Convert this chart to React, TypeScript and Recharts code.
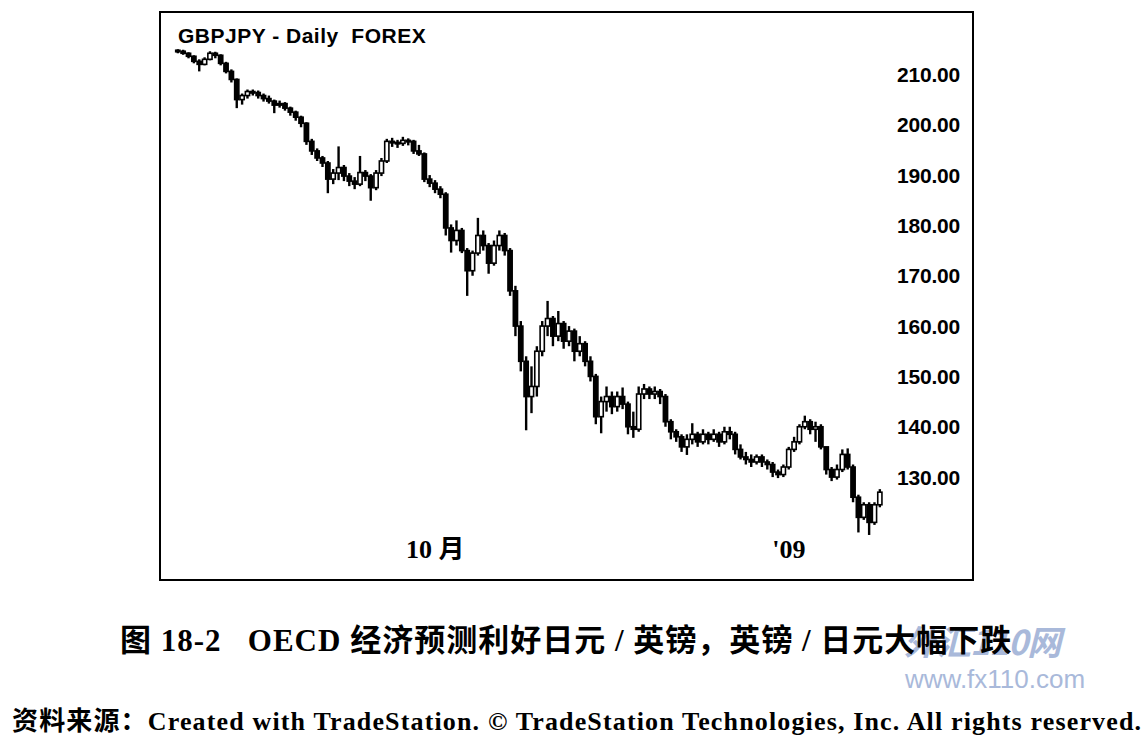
import { ComposedChart, Bar, XAxis, YAxis } from "recharts";

// weekday sessions, 2008-07-25 .. 2009-01-26
const DATES = [
  "2008-07-25", "2008-07-28", "2008-07-29", "2008-07-30", "2008-07-31",
  "2008-08-01", "2008-08-04", "2008-08-05", "2008-08-06", "2008-08-07", "2008-08-08",
  "2008-08-11", "2008-08-12", "2008-08-13", "2008-08-14", "2008-08-15",
  "2008-08-18", "2008-08-19", "2008-08-20", "2008-08-21", "2008-08-22",
  "2008-08-25", "2008-08-26", "2008-08-27", "2008-08-28", "2008-08-29",
  "2008-09-01", "2008-09-02", "2008-09-03", "2008-09-04", "2008-09-05",
  "2008-09-08", "2008-09-09", "2008-09-10", "2008-09-11", "2008-09-12",
  "2008-09-15", "2008-09-16", "2008-09-17", "2008-09-18", "2008-09-19",
  "2008-09-22", "2008-09-23", "2008-09-24", "2008-09-25", "2008-09-26",
  "2008-09-29", "2008-09-30",
  "2008-10-01", "2008-10-02", "2008-10-03",
  "2008-10-06", "2008-10-07", "2008-10-08", "2008-10-09", "2008-10-10",
  "2008-10-13", "2008-10-14", "2008-10-15", "2008-10-16", "2008-10-17",
  "2008-10-20", "2008-10-21", "2008-10-22", "2008-10-23", "2008-10-24",
  "2008-10-27", "2008-10-28", "2008-10-29", "2008-10-30", "2008-10-31",
  "2008-11-03", "2008-11-04", "2008-11-05", "2008-11-06", "2008-11-07",
  "2008-11-10", "2008-11-11", "2008-11-12", "2008-11-13", "2008-11-14",
  "2008-11-17", "2008-11-18", "2008-11-19", "2008-11-20", "2008-11-21",
  "2008-11-24", "2008-11-25", "2008-11-26", "2008-11-27", "2008-11-28",
  "2008-12-01", "2008-12-02", "2008-12-03", "2008-12-04", "2008-12-05",
  "2008-12-08", "2008-12-09", "2008-12-10", "2008-12-11", "2008-12-12",
  "2008-12-15", "2008-12-16", "2008-12-17", "2008-12-18", "2008-12-19",
  "2008-12-22", "2008-12-23", "2008-12-24", "2008-12-25", "2008-12-26",
  "2008-12-29", "2008-12-30", "2008-12-31",
  "2009-01-01", "2009-01-02",
  "2009-01-05", "2009-01-06", "2009-01-07", "2009-01-08", "2009-01-09",
  "2009-01-12", "2009-01-13", "2009-01-14", "2009-01-15", "2009-01-16",
  "2009-01-19", "2009-01-20", "2009-01-21", "2009-01-22", "2009-01-23",
  "2009-01-26",
];

const OPEN = [
  214.8, 214.6, 214.2, 213.6, 212.6, 212.0, 213.0, 214.2, 213.8, 212.2,
  210.6, 209.0, 205.0, 205.8, 206.6, 206.4, 205.8, 205.2, 204.7, 203.9,
  204.2, 203.3, 202.5, 201.5, 200.3, 196.7, 194.8, 193.4, 192.4, 189.2,
  190.4, 191.5, 189.8, 188.8, 188.2, 190.5, 189.8, 187.5, 190.4, 192.8,
  196.7, 196.5, 196.3, 196.9, 196.7, 194.8, 194.2, 189.2, 188.4, 187.2,
  186.2, 179.5, 177.0, 179.0, 175.0, 171.0, 174.5, 178.0, 176.0, 172.5,
  176.0, 178.0, 175.0, 167.0, 160.0, 153.0, 146.0, 148.0, 155.0, 160.0,
  161.5, 158.0, 160.5, 157.0, 159.0, 155.0, 156.5, 153.0, 150.0, 142.0,
  145.0, 146.0, 144.0, 146.0, 144.5, 140.0, 139.5, 146.5, 147.5, 146.5,
  147.0, 146.0, 141.0, 139.0, 138.0, 136.0, 137.5, 138.5, 137.0, 138.5,
  137.5, 138.5, 137.0, 139.0, 138.5, 135.5, 134.0, 133.5, 133.0, 134.0,
  133.0, 132.5, 131.0, 130.5, 132.0, 135.5, 137.0, 140.0, 141.0, 139.5,
  140.0, 136.0, 131.5, 130.0, 131.5, 134.5, 132.0, 126.0, 122.0, 124.5,
  121.0, 124.5,
];

const HIGH = [
  215.0, 214.9, 214.4, 213.8, 213.0, 213.4, 214.6, 214.5, 214.0, 212.5,
  211.0, 209.2, 206.2, 207.0, 207.0, 206.8, 206.2, 205.8, 205.0, 204.8,
  204.5, 203.6, 202.8, 201.8, 200.5, 197.2, 195.3, 193.8, 192.8, 191.2,
  195.7, 192.0, 190.4, 189.6, 193.8, 191.0, 190.2, 191.0, 193.4, 197.2,
  197.4, 197.0, 197.6, 197.3, 197.0, 196.0, 194.5, 190.0, 189.0, 187.8,
  186.6, 180.2, 181.0, 179.5, 175.5, 175.0, 181.5, 179.0, 176.5, 177.0,
  179.0, 178.5, 175.5, 168.0, 161.0, 154.0, 152.0, 156.0, 161.0, 165.0,
  162.0, 163.0, 161.0, 160.0, 159.5, 158.0, 157.0, 154.0, 150.5, 146.0,
  148.0, 147.0, 147.0, 147.8, 145.0, 143.0, 148.0, 148.5, 148.0, 148.0,
  147.5, 146.5, 141.5, 139.5, 138.5, 138.5, 140.7, 139.0, 139.5, 139.0,
  139.5, 139.0, 140.0, 140.0, 139.0, 136.5, 135.0, 134.5, 134.5, 134.5,
  133.5, 133.0, 131.5, 132.5, 136.0, 138.0, 140.5, 142.2, 141.5, 141.0,
  140.5, 136.0, 132.0, 132.5, 135.5, 135.7, 132.5, 126.5, 125.0, 125.0,
  125.0, 127.6,
];

const LOW = [
  214.2, 213.9, 213.2, 212.2, 210.6, 211.8, 212.8, 213.2, 211.8, 210.2,
  208.4, 203.3, 204.0, 205.2, 205.8, 205.2, 204.6, 204.2, 202.3, 203.4,
  202.8, 201.8, 200.8, 199.5, 196.0, 194.0, 192.8, 191.6, 186.4, 188.2,
  189.0, 188.8, 187.8, 187.2, 187.8, 188.8, 184.9, 187.0, 189.8, 192.4,
  195.6, 195.4, 195.8, 195.9, 194.2, 193.8, 188.6, 187.6, 186.4, 185.4,
  178.0, 174.6, 176.0, 174.5, 166.0, 170.0, 174.0, 175.0, 170.4, 172.0,
  175.0, 174.0, 166.0, 158.0, 151.0, 139.3, 142.7, 146.0, 154.0, 158.0,
  156.0, 157.0, 155.5, 156.0, 153.0, 154.0, 152.0, 149.0, 140.5, 138.7,
  143.0, 142.5, 143.0, 143.5, 138.5, 137.8, 139.0, 145.5, 145.5, 145.5,
  144.5, 140.0, 137.5, 137.0, 135.0, 134.4, 136.5, 136.0, 136.5, 136.5,
  137.0, 136.0, 136.5, 137.5, 134.5, 133.5, 132.5, 132.0, 132.5, 132.0,
  131.5, 130.0, 129.8, 130.0, 131.5, 135.0, 136.5, 139.5, 138.5, 137.0,
  135.5, 130.5, 129.2, 129.5, 131.0, 131.5, 125.0, 119.0, 121.5, 118.5,
  120.5, 124.0,
];

const CLOSE = [
  214.6, 214.2, 213.6, 212.6, 212.0, 213.0, 214.2, 213.8, 212.2, 210.6,
  209.0, 205.0, 205.8, 206.6, 206.4, 205.8, 205.2, 204.7, 203.9, 204.2,
  203.3, 202.5, 201.5, 200.3, 196.7, 194.8, 193.4, 192.4, 189.2, 190.4,
  191.5, 189.8, 188.8, 188.2, 190.5, 189.8, 187.5, 190.4, 192.8, 196.7,
  196.5, 196.3, 196.9, 196.7, 194.8, 194.2, 189.2, 188.4, 187.2, 186.2,
  179.5, 177.0, 179.0, 175.0, 171.0, 174.5, 178.0, 176.0, 172.5, 176.0,
  178.0, 175.0, 167.0, 160.0, 153.0, 146.0, 148.0, 155.0, 160.0, 161.5,
  158.0, 160.5, 157.0, 159.0, 155.0, 156.5, 153.0, 150.0, 142.0, 145.0,
  146.0, 144.0, 146.0, 144.5, 140.0, 139.5, 146.5, 147.5, 146.5, 147.0,
  146.0, 141.0, 139.0, 138.0, 136.0, 137.5, 138.5, 137.0, 138.5, 137.5,
  138.5, 137.0, 139.0, 138.5, 135.5, 134.0, 133.5, 133.0, 134.0, 133.0,
  132.5, 131.0, 130.5, 132.0, 135.5, 137.0, 140.0, 141.0, 139.5, 140.0,
  136.0, 131.5, 130.0, 131.5, 134.5, 132.0, 126.0, 122.0, 124.5, 121.0,
  124.5, 127.0,
];

const PRICE_TICKS = [130, 140, 150, 160, 170, 180, 190, 200, 210];
const DATE_TICKS = ["2008-10-01", "2009-01-01"];
const DATE_TICK_LABELS: Record<string, string> = {
  "2008-10-01": "10 月",
  "2009-01-01": "'09",
};

const data = DATES.map((d, i) => ({
  date: d,
  open: OPEN[i],
  high: HIGH[i],
  low: LOW[i],
  close: CLOSE[i],
  range: [LOW[i], HIGH[i]],
}));

function Candle(props: any) {
  const { x, y, width, height, payload } = props;
  if (!payload) return null;
  const { open, close, high, low } = payload;
  const top = Math.min(y, y + height);
  const h = Math.abs(height);
  const ppu = high > low ? h / (high - low) : 0;
  const yOf = (v: number) => top + (high - v) * ppu;
  const cx = x + width / 2;
  const up = close >= open;
  const bTop = yOf(Math.max(open, close));
  const bBot = yOf(Math.min(open, close));
  return (
    <g>
      <line x1={cx} x2={cx} y1={top} y2={top + h} stroke="#000" strokeWidth={2.4} />
      <rect
        x={x + 0.4}
        y={bTop}
        width={width - 0.8}
        height={Math.max(bBot - bTop, 1.5)}
        fill={up ? "#fff" : "#000"}
        stroke="#000"
        strokeWidth={1.6}
      />
    </g>
  );
}

function PriceTick({ x, y, payload }: any) {
  return (
    <text
      x={x + 60}
      y={y}
      dy="0.36em"
      textAnchor="end"
      fontFamily="'Liberation Sans', Arial, sans-serif"
      fontWeight="bold"
      fontSize={21}
      letterSpacing={-0.2}
      fill="#000"
    >
      {payload.value.toFixed(2)}
    </text>
  );
}

function DateTick({ x, y, payload }: any) {
  return (
    <text
      x={x}
      y={y + 18}
      textAnchor="middle"
      fontFamily="'Liberation Serif', 'Noto Sans CJK SC', serif"
      fontWeight="bold"
      fontSize={26}
      fill="#000"
    >
      {DATE_TICK_LABELS[payload.value] ?? ""}
    </text>
  );
}

export default function App() {
  return (
    <div
      style={{
        position: "absolute",
        left: 0,
        top: 0,
        width: 1148,
        height: 738,
        background: "#fff",
        overflow: "hidden",
      }}
    >
      <div style={{ position: "absolute", left: 0, top: 0 }}>
        <ComposedChart
          width={1148}
          height={600}
          data={data}
          margin={{ top: 12, right: 175, bottom: 20, left: 160 }}
        >
          <XAxis
            dataKey="date"
            ticks={DATE_TICKS}
            interval={0}
            tick={<DateTick />}
            tickLine={false}
            axisLine={false}
            tickSize={0}
            tickMargin={0}
            height={40}
            padding={{ left: 15.3, right: 17.3 }}
          />
          <YAxis
            orientation="right"
            domain={[117.5, 222.4]}
            allowDataOverflow
            ticks={PRICE_TICKS}
            tick={<PriceTick />}
            tickLine={false}
            axisLine={false}
            tickSize={0}
            tickMargin={0}
            width={73}
          />
          <Bar dataKey="range" barSize={5} shape={<Candle />} isAnimationActive={false} />
        </ComposedChart>
      </div>

      {/* frame */}
      <div
        style={{
          position: "absolute",
          left: 159,
          top: 11,
          width: 811,
          height: 566,
          border: "2px solid #000",
          pointerEvents: "none",
        }}
      />

      <div
        style={{
          position: "absolute",
          left: 178,
          top: 24,
          fontFamily: "'Liberation Sans', Arial, sans-serif",
          fontWeight: "bold",
          fontSize: 21,
          letterSpacing: 0.5,
          whiteSpace: "pre",
          color: "#000",
        }}
      >
        {"GBPJPY - Daily  FOREX"}
      </div>

      {/* fx110 watermark, sits behind the caption as in the scan */}
      <div
        style={{
          position: "absolute",
          left: 904,
          top: 624,
          fontFamily: "'Noto Sans CJK SC', sans-serif",
          fontWeight: "bold",
          fontStyle: "italic",
          fontSize: 34,
          lineHeight: 1,
          color: "#a9b9da",
          whiteSpace: "pre",
          letterSpacing: -1,
        }}
      >
        外汇110网
      </div>

      <div
        style={{
          position: "absolute",
          left: 120,
          top: 615,
          fontFamily: "'Liberation Serif', 'Noto Sans CJK SC', serif",
          fontWeight: "bold",
          fontSize: 31,
          letterSpacing: 1,
          whiteSpace: "pre",
          color: "#000",
        }}
      >
        {"图 18-2   OECD 经济预测利好日元 / 英镑，英镑 / 日元大幅下跌"}
      </div>

      <div
        style={{
          position: "absolute",
          left: 905,
          top: 666,
          fontFamily: "'Liberation Sans', Arial, sans-serif",
          fontSize: 26,
          lineHeight: 1,
          color: "#a9b9da",
          whiteSpace: "pre",
        }}
      >
        www.fx110.com
      </div>

      <div
        style={{
          position: "absolute",
          left: 12,
          top: 700,
          fontFamily: "'Liberation Serif', 'Noto Sans CJK SC', serif",
          fontWeight: "bold",
          fontSize: 26,
          letterSpacing: 1.15,
          whiteSpace: "pre",
          color: "#000",
        }}
      >
        {"资料来源：Created with TradeStation. © TradeStation Technologies, Inc. All rights reserved."}
      </div>
    </div>
  );
}
